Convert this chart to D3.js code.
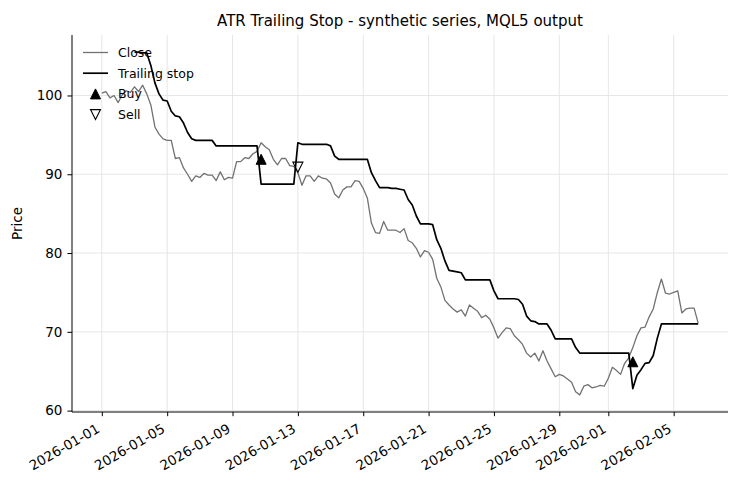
<!DOCTYPE html>
<html>
<head>
<meta charset="utf-8">
<script src="https://cdn.jsdelivr.net/npm/d3@7"></script>
<style>
  body { margin: 0; background: #fff; }
  text { font-family: "DejaVu Sans", sans-serif; }
</style>
</head>
<body>
<div id="chart"></div>
<script>
// Bars every 6 hours, starting 2026-01-01 00:00
const startTime = "2026-01-01T00:00:00Z";
const stepHours = 6;

const closeValues = [
  100.3, 100.5, 99.7, 100.0, 99.1, 100.1, 100.6, 100.4, 101.1, 100.5,
  101.3, 100.2, 98.8, 96.0, 95.1, 94.5, 94.3, 94.3, 92.0, 92.1,
  90.8, 90.0, 89.1, 89.8, 89.6, 90.1, 89.9, 89.9, 89.2, 90.3,
  89.3, 89.6, 89.5, 91.6, 91.6, 92.1, 92.0, 92.6, 92.9, 94.0,
  93.5, 93.1, 91.9, 91.2, 92.0, 92.0, 91.1, 91.0, 90.2, 88.6,
  89.8, 89.8, 89.1, 89.8, 89.5, 89.4, 88.9, 87.5, 87.0, 88.0,
  88.4, 88.4, 89.2, 89.1, 88.2, 87.0, 83.8, 82.6, 82.5, 84.0,
  82.9, 82.9, 82.9, 82.6, 83.1, 81.6, 81.3, 80.6, 79.5, 80.3,
  80.1, 79.2, 76.8, 75.7, 74.0, 73.4, 72.9, 72.5, 72.8, 72.0,
  73.4, 73.0, 72.6, 71.8, 72.1, 71.6, 70.5, 69.2, 69.9, 70.5,
  70.4, 69.5, 69.0, 68.4, 67.3, 66.8, 67.3, 66.3, 67.6, 66.3,
  65.3, 64.3, 64.6, 64.4, 64.0, 63.6, 62.4, 62.0, 63.1, 63.3,
  62.9, 63.0, 63.2, 63.1, 64.1, 65.5, 65.1, 64.6, 66.0, 66.7,
  68.0, 69.5, 70.5, 70.6, 71.9, 72.9, 75.0, 76.7, 74.9, 74.8,
  75.0, 75.2, 72.4, 72.9, 73.0, 73.0, 71.1
];

const stopValues = [
  null, null, null, null, null, null, null, null, 105.5, 105.5,
  105.4, 105.4, 103.8, 101.6, 100.2, 99.4, 99.3, 98.0, 97.4, 97.3,
  96.5, 95.3, 94.5, 94.3, 94.3, 94.3, 94.3, 94.3, 93.6, 93.6,
  93.6, 93.6, 93.6, 93.6, 93.6, 93.6, 93.6, 93.6, 93.6, 88.75,
  88.75, 88.75, 88.75, 88.75, 88.75, 88.75, 88.75, 88.75, 94.0, 93.8,
  93.8, 93.8, 93.8, 93.8, 93.8, 93.8, 93.6, 92.3, 91.9, 91.9,
  91.9, 91.9, 91.9, 91.9, 91.9, 91.9, 90.2, 89.2, 88.3, 88.3,
  88.3, 88.2, 88.2, 88.1, 88.0, 86.8, 86.1, 84.7, 83.7, 83.7,
  83.7, 83.6, 81.7, 80.6, 79.0, 77.8, 77.7, 77.6, 77.5, 76.6,
  76.6, 76.6, 76.6, 76.6, 76.6, 76.6, 75.2, 74.2, 74.2, 74.2,
  74.2, 74.2, 74.1, 73.5, 72.0, 71.4, 71.3, 71.0, 71.0, 71.0,
  70.2, 69.1, 69.1, 69.1, 69.1, 69.1, 68.0, 67.3, 67.3, 67.3,
  67.3, 67.3, 67.3, 67.3, 67.3, 67.3, 67.3, 67.3, 67.3, 67.3,
  62.8, 64.5, 65.2, 66.0, 66.1, 67.0, 69.2, 71.0, 71.0, 71.0,
  71.0, 71.0, 71.0, 71.0, 71.0, 71.0, 71.0
];

const buyTimes = ["2026-01-10T18:00:00Z", "2026-02-02T12:00:00Z"];
const buyPrices = [91.9, 66.2];
const sellTimes = ["2026-01-13T00:00:00Z"];
const sellPrices = [90.9];

const xTickLabels = [
  "2026-01-01", "2026-01-05", "2026-01-09", "2026-01-13", "2026-01-17",
  "2026-01-21", "2026-01-25", "2026-01-29", "2026-02-01", "2026-02-05"
];
const yTicks = [60, 70, 80, 90, 100];

// Layout
const W = 740, H = 490;
const margin = { top: 35, right: 12, bottom: 78, left: 72 };
const width = W - margin.left - margin.right;
const height = H - margin.top - margin.bottom;

const t0 = new Date(startTime);
const times = closeValues.map((d, i) => new Date(t0.getTime() + i * stepHours * 3600e3));

const series = closeValues.map((c, i) => ({ t: times[i], close: c, stop: stopValues[i] }));

const svg = d3.select("#chart")
  .append("svg")
  .attr("width", W)
  .attr("height", H);

const g = svg.append("g")
  .attr("transform", `translate(${margin.left}, ${margin.top})`);

// x scale with 5% padding, like matplotlib
const tExtent = d3.extent(times);
const pad = (tExtent[1] - tExtent[0]) * 0.05;
const x = d3.scaleUtc()
  .domain([new Date(+tExtent[0] - pad), new Date(+tExtent[1] + pad)])
  .range([0, width]);

const allVals = closeValues.concat(stopValues.filter((v) => v !== null));
const yMin = d3.min(allVals), yMax = d3.max(allVals);
const yPad = (yMax - yMin) * 0.05;
const y = d3.scaleLinear()
  .domain([yMin - yPad, yMax + yPad])
  .range([height, 0]);

const parseDay = d3.utcParse("%Y-%m-%d");
const xTicks = xTickLabels.map(parseDay);

// Grid
g.append("g")
  .selectAll("line")
  .data(xTicks)
  .enter()
  .append("line")
  .attr("x1", (d) => x(d))
  .attr("x2", (d) => x(d))
  .attr("y1", 0)
  .attr("y2", height)
  .attr("stroke", "#e3e3e3")
  .attr("stroke-width", 0.9);

g.append("g")
  .selectAll("line")
  .data(yTicks)
  .enter()
  .append("line")
  .attr("x1", 0)
  .attr("x2", width)
  .attr("y1", (d) => y(d))
  .attr("y2", (d) => y(d))
  .attr("stroke", "#e3e3e3")
  .attr("stroke-width", 0.9);

// Close line
g.append("path")
  .datum(series)
  .attr("fill", "none")
  .attr("stroke", "#727272")
  .attr("stroke-width", 1.3)
  .attr("stroke-linejoin", "round")
  .attr("d", d3.line().x((d) => x(d.t)).y((d) => y(d.close)));

// Trailing stop line
g.append("path")
  .datum(series)
  .attr("fill", "none")
  .attr("stroke", "#000")
  .attr("stroke-width", 1.7)
  .attr("stroke-linejoin", "round")
  .attr("d", d3.line()
    .defined((d) => d.stop !== null)
    .x((d) => x(d.t))
    .y((d) => y(d.stop)));

// Triangle markers
const triUp = (s) => `M0,${-s / 2}L${-s / 2},${s / 2}L${s / 2},${s / 2}Z`;
const triDown = (s) => `M0,${s / 2}L${-s / 2},${-s / 2}L${s / 2},${-s / 2}Z`;
const mSize = 10;

g.selectAll("path.buy")
  .data(buyTimes.map((t, i) => ({ t: new Date(t), p: buyPrices[i] })))
  .enter()
  .append("path")
  .attr("class", "buy")
  .attr("d", triUp(mSize))
  .attr("transform", (d) => `translate(${x(d.t)}, ${y(d.p)})`)
  .attr("fill", "#000")
  .attr("stroke", "#000")
  .attr("stroke-width", 1);

g.selectAll("path.sell")
  .data(sellTimes.map((t, i) => ({ t: new Date(t), p: sellPrices[i] })))
  .enter()
  .append("path")
  .attr("class", "sell")
  .attr("d", triDown(mSize))
  .attr("transform", (d) => `translate(${x(d.t)}, ${y(d.p)})`)
  .attr("fill", "none")
  .attr("stroke", "#000")
  .attr("stroke-width", 1.1);

// Axes
const xAxis = g.append("g")
  .attr("transform", `translate(0, ${height})`)
  .call(d3.axisBottom(x)
    .tickValues(xTicks)
    .tickFormat(d3.utcFormat("%Y-%m-%d"))
    .tickSize(4.2)
    .tickSizeOuter(0));
// rotated 30 degrees, right edge of the label at the tick
xAxis.selectAll("text")
  .style("font-size", "13.5px")
  .style("fill", "#000")
  .style("text-anchor", "end")
  .attr("x", -1.7)
  .attr("y", 19.5)
  .attr("dx", 0)
  .attr("dy", 0)
  .attr("transform", "rotate(-30, -1.7, 19.5)");

const yAxis = g.append("g")
  .call(d3.axisLeft(y)
    .tickValues(yTicks)
    .tickSize(4.6)
    .tickSizeOuter(0)
    .tickPadding(5));
yAxis.selectAll("text")
  .style("font-size", "13.5px")
  .style("fill", "#000");

// Only left and bottom spines, stretched over the whole plot area
xAxis.select("path.domain").attr("d", `M0,0H${width}`).attr("stroke", "#000").attr("stroke-width", 1);
yAxis.select("path.domain").attr("d", `M0,0V${height}`).attr("stroke", "#000").attr("stroke-width", 1);
g.selectAll("g.tick line").attr("stroke", "#000").attr("stroke-width", 1);

// Y label
g.append("text")
  .attr("transform", `translate(${-50}, ${height / 2}) rotate(-90)`)
  .attr("text-anchor", "middle")
  .style("font-size", "13.5px")
  .text("Price");

// Title
svg.append("text")
  .attr("x", margin.left + width / 2)
  .attr("y", margin.top - 9)
  .attr("text-anchor", "middle")
  .style("font-size", "15px")
  .text("ATR Trailing Stop - synthetic series, MQL5 output");

// Legend (no frame)
const legend = g.append("g").attr("transform", "translate(11, 17.5)");
const rowH = 20.7;

legend.append("line")
  .attr("x1", 0).attr("x2", 25).attr("y1", 0).attr("y2", 0)
  .attr("stroke", "#727272").attr("stroke-width", 1.3);
legend.append("line")
  .attr("x1", 0).attr("x2", 25).attr("y1", rowH).attr("y2", rowH)
  .attr("stroke", "#000").attr("stroke-width", 1.7);
legend.append("path")
  .attr("d", triUp(mSize))
  .attr("transform", `translate(12.5, ${rowH * 2})`)
  .attr("fill", "#000").attr("stroke", "#000");
legend.append("path")
  .attr("d", triDown(mSize))
  .attr("transform", `translate(12.5, ${rowH * 3})`)
  .attr("fill", "none").attr("stroke", "#000").attr("stroke-width", 1.1);

legend.selectAll("text")
  .data(["Close", "Trailing stop", "Buy", "Sell"])
  .enter()
  .append("text")
  .attr("x", 35)
  .attr("y", (d, i) => i * rowH)
  .attr("dy", "0.35em")
  .style("font-size", "12.5px")
  .text((d) => d);
</script>
</body>
</html>
